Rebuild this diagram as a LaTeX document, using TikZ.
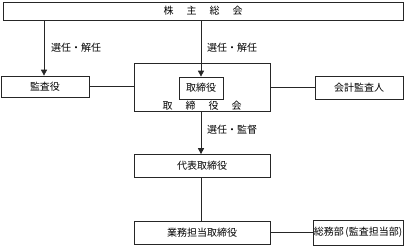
\documentclass[tikz,border=0pt]{standalone}
\usepackage{fontspec}
\setmainfont{Noto Sans CJK JP}
\usetikzlibrary{arrows.meta}
\begin{document}
\begin{tikzpicture}[x=1pt,y=-1pt,
  box/.style={draw=black!85,line width=0.7pt,inner sep=0pt,font=\fontsize{10}{12}\selectfont},
  lbl/.style={inner sep=0pt,anchor=west,font=\fontsize{10}{12}\selectfont},
  conn/.style={draw=black!85,line width=0.7pt},
  arr/.style={conn,-{Triangle[width=6pt,length=6pt]}}]
\useasboundingbox (0,0) rectangle (407,247);
\node[box,minimum width=400pt,minimum height=18pt] (gm) at (203,11) {株\hspace{13pt}主\hspace{13pt}総\hspace{13pt}会};
\node[box,minimum width=88pt,minimum height=21pt] (kansa) at (45,86.5) {監査役};
\node[box,minimum width=136pt,minimum height=48pt] (board) at (202,87) {};
\node[box,minimum width=44pt,minimum height=22pt] (dir) at (201,88) {取締役};
\node[inner sep=0pt,font=\fontsize{10}{12}\selectfont] (boardlbl) at (202,106) {取\hspace{13pt}締\hspace{13pt}役\hspace{13pt}会};
\node[box,minimum width=88pt,minimum height=23pt] (audit) at (359,87.5) {会計監査人};
\node[box,minimum width=136pt,minimum height=23pt] (rep) at (202,166) {代表取締役};
\node[box,minimum width=136pt,minimum height=23pt] (exec) at (202,232.5) {業務担当取締役};
\node[box,minimum width=90pt,minimum height=25pt] (soumu) at (358,232.5) {総務部\hspace{1.5pt}(監査担当部)};
\draw[arr] (gm.south -| 44,0) -- (kansa.north -| 44,0);
\draw[arr] (gm.south -| dir.north) -- (dir.north);
\draw[arr] (board.south -| dir.north) -- (rep.north -| dir.north);
\draw[conn] (rep.south -| dir.north) -- (exec.north -| dir.north);
\draw[conn] (kansa.east) -- (board.west |- kansa.east);
\draw[conn] (board.east |- audit.west) -- (audit.west);
\draw[conn] (exec.east |- soumu.west) -- (soumu.west);
\node[lbl] (l1) at (51,48) {選任・解任};
\node[lbl] (l2) at (207,48) {選任・解任};
\node[lbl] (l3) at (207,130) {選任・監督};
\end{tikzpicture}
\end{document}
